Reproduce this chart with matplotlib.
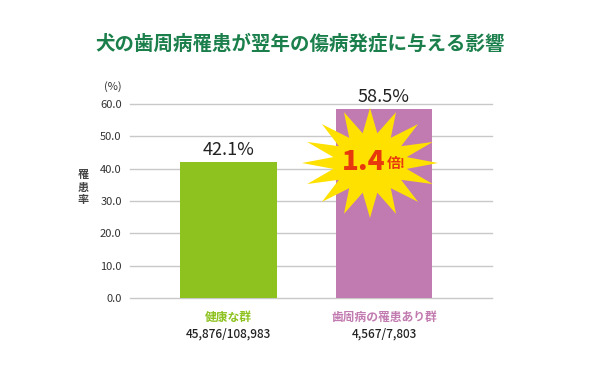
import numpy as np
import matplotlib
matplotlib.use('Agg')
import matplotlib.pyplot as plt
from matplotlib.patches import Polygon

plt.rcParams['font.family'] = ['Noto Sans CJK JP', 'DejaVu Sans']

# data
groups = ['健康な群', '歯周病の罹患あり群']
counts = ['45,876/108,983', '4,567/7,803']
rates = [42.1, 58.5]
bar_colors = ['#8dc21f', '#c27bb0']
yticks = [0, 10, 20, 30, 40, 50, 60]
ratio_text = '1.4'

fig = plt.figure(figsize=(6, 3.76), dpi=100)
ax = fig.add_axes([130 / 600, 1 - 298 / 376, 362 / 600, 194 / 376])

x = np.arange(len(groups))
ax.bar(x, rates, width=0.62, color=bar_colors, zorder=2)

ax.set_xlim(-0.633, 1.695)
ax.set_ylim(0, 60)
ax.set_yticks(yticks)
ax.set_yticklabels([f'{v:.1f}' for v in yticks], fontsize=8, color='#333333')
ax.tick_params(axis='y', length=0, pad=6)
ax.set_xticks([])
for v in yticks:
    ax.axhline(v, color='#c8c8c8', lw=1, zorder=1, clip_on=False)
for s in ax.spines.values():
    s.set_visible(False)

# value labels
for xi, r in zip(x, rates):
    ax.text(xi, r + 1.0, f'{r}%', ha='center', va='bottom', fontsize=13, color='#222222')

# category labels
for xi, g, c, col in zip(x, groups, counts, bar_colors):
    ax.text(xi, -6.0, g, ha='center', va='center', fontsize=8.5, color=col, fontweight='bold')
    ax.text(xi, -11.0, c, ha='center', va='center', fontsize=8.5, color='#222222', fontweight='medium')

fig.text(113 / 600, 1 - 87 / 376, '(%)', ha='center', va='center', fontsize=8, color='#333333')
fig.text(83 / 600, 1 - 187 / 376, '罹\n患\n率', ha='center', va='center', fontsize=8,
         color='#444444', fontweight='bold', linespacing=0.95)

fig.text(0.5, 1 - 44 / 376, '犬の歯周病罹患が翌年の傷病発症に与える影響', ha='center', va='center',
         fontsize=14, color='#1a7f4b', fontweight='bold')

# starburst
n = 16
ang = np.linspace(0, 2 * np.pi, 2 * n, endpoint=False) + np.pi / 2
rad = np.where(np.arange(2 * n) % 2 == 0, 1.0, 0.55)
cx, cy, rx, ry = 370 / 600, 1 - 163 / 376, 68 / 600, 55 / 376
pts = np.column_stack([cx + rx * rad * np.cos(ang), cy + ry * rad * np.sin(ang)])
fig.patches.append(Polygon(pts, closed=True, transform=fig.transFigure, facecolor='#ffe100',
                           edgecolor='none', zorder=5))
fig.text(364 / 600, 1 - 162 / 376, ratio_text, ha='center', va='center', fontsize=20,
         color='#e8380d', fontweight='black', zorder=6)
fig.text(387 / 600, 1 - 164 / 376, '倍!', ha='left', va='center', fontsize=10,
         color='#e8380d', fontweight='bold', zorder=6)

fig.savefig('out.png', dpi=100)
